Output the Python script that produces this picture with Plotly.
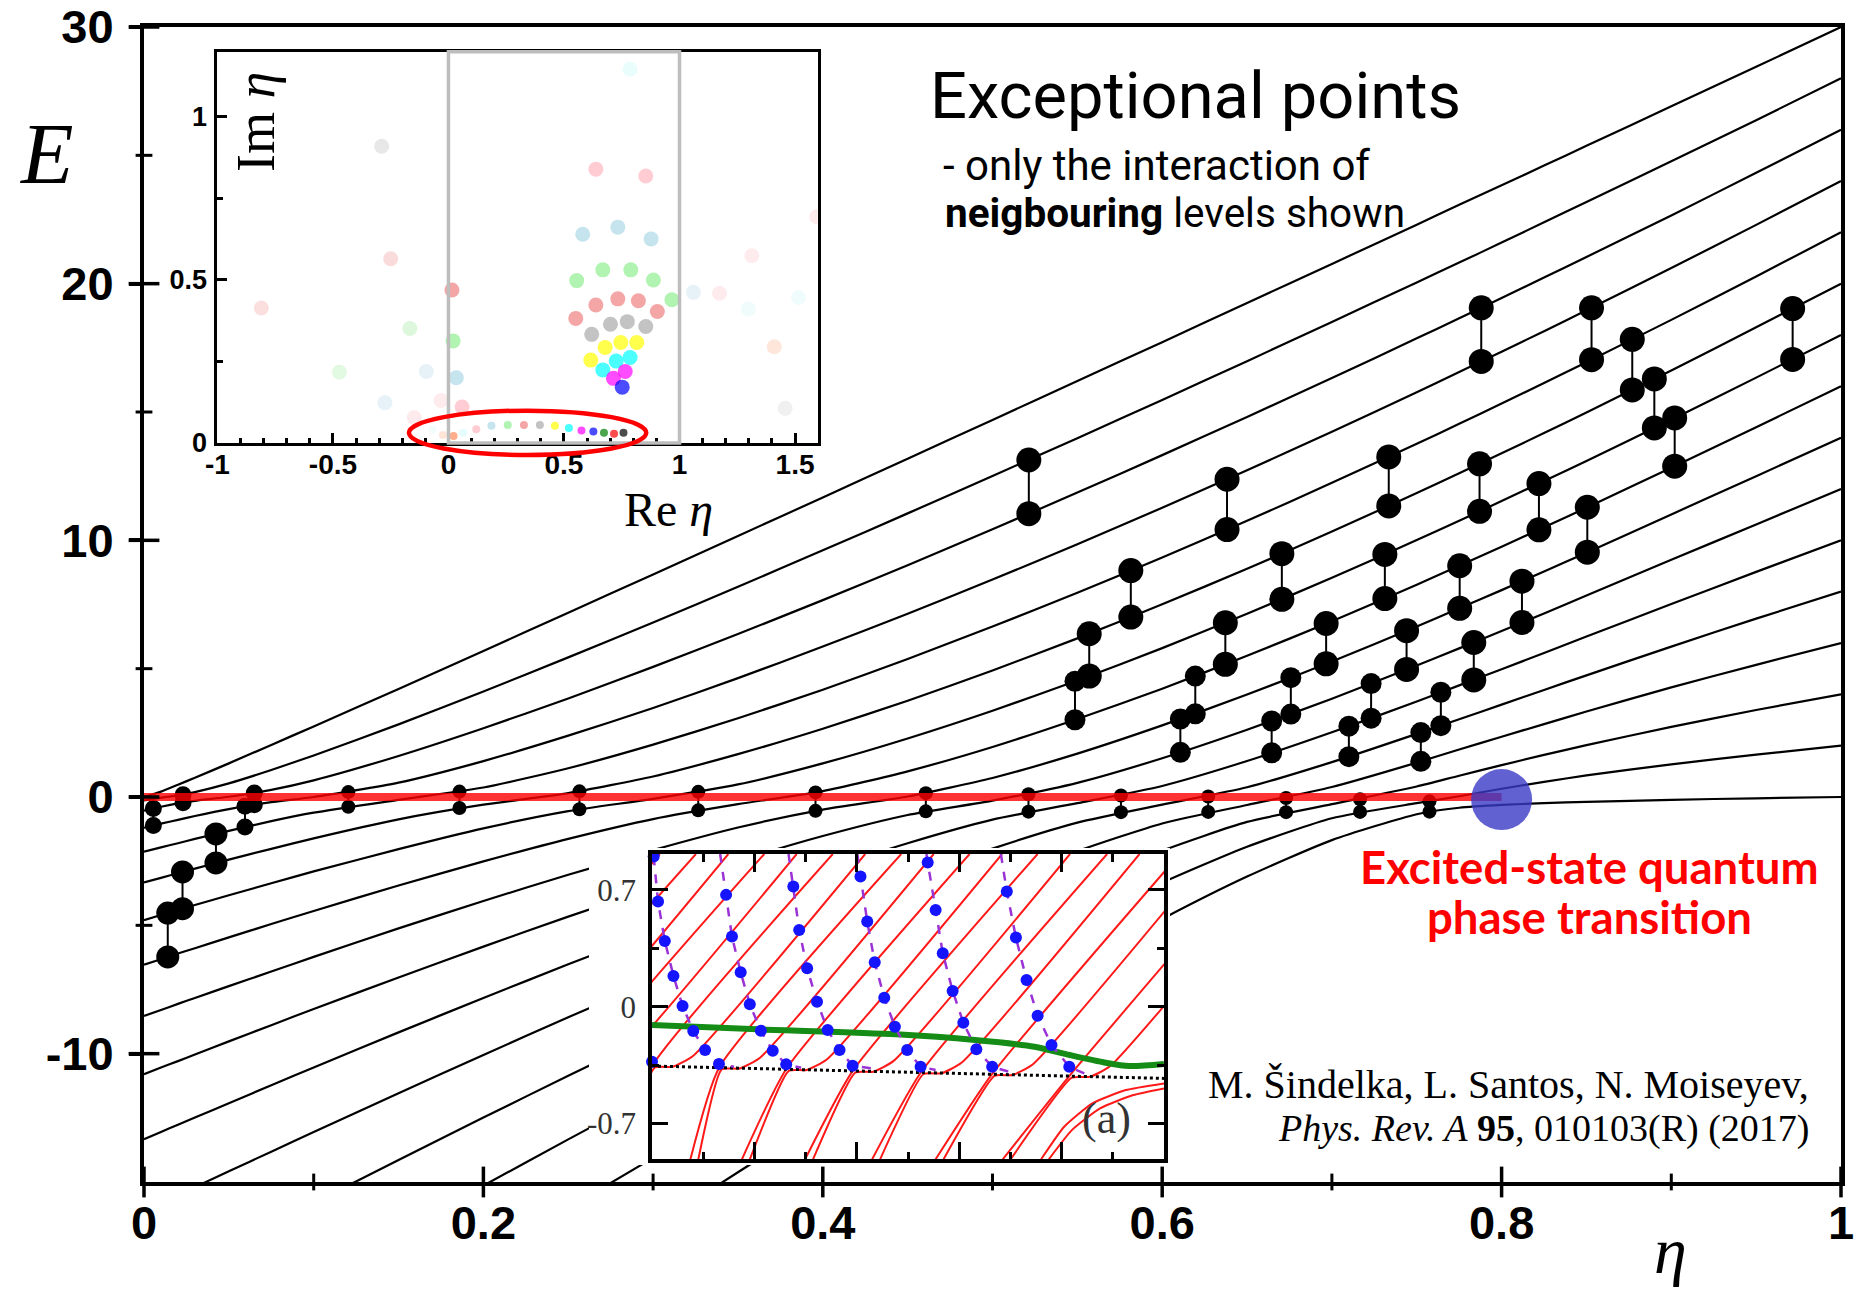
import plotly.graph_objects as go

# ------------------------------------------------------------------ main spectrum
ETA_GRID = [0, 0.01, 0.02, 0.03, 0.05, 0.075, 0.1, 0.15, 0.2, 0.25, 0.3, 0.35, 0.4, 0.45,
            0.5, 0.55, 0.6, 0.65, 0.7, 0.75, 0.775, 0.8, 0.825, 0.85, 0.9, 0.95, 1.0]

LEVEL_00 = [-30.00, -29.55, -29.10, -28.65, -27.76, -26.64, -25.52, -23.30, -21.10, -18.91, -16.75, -14.62, -12.52, -10.46,
            -8.47, -6.56, -4.75, -3.10, -1.68, -0.67, -0.42, -0.31, -0.24, -0.19, -0.11, -0.05, 0.00]
LEVEL_01 = [-26.13, -25.72, -25.31, -24.90, -24.08, -23.06, -22.04, -20.02, -18.01, -16.02, -14.06, -12.13, -10.24, -8.39,
            -6.61, -4.92, -3.34, -1.94, -0.83, -0.24, 0.03, 0.32, 0.59, 0.84, 1.27, 1.65, 2.00]
LEVEL_02 = [-22.53, -22.16, -21.78, -21.41, -20.66, -19.73, -18.81, -16.96, -15.14, -13.34, -11.57, -9.83, -8.13, -6.48,
            -4.91, -3.43, -2.09, -0.97, -0.28, 0.41, 0.83, 1.24, 1.64, 2.02, 2.73, 3.39, 4.00]
LEVEL_03 = [-19.20, -18.86, -18.52, -18.18, -17.50, -16.65, -15.81, -14.14, -12.49, -10.86, -9.26, -7.70, -6.19, -4.74,
            -3.37, -2.11, -1.03, -0.31, 0.39, 1.34, 1.85, 2.35, 2.84, 3.33, 4.27, 5.15, 6.00]
LEVEL_04 = [-16.13, -15.82, -15.51, -15.20, -14.58, -13.82, -13.05, -11.54, -10.05, -8.58, -7.16, -5.77, -4.44, -3.17,
            -2.01, -1.00, -0.30, 0.38, 1.36, 2.46, 3.03, 3.60, 4.17, 4.74, 5.86, 6.95, 8.00]
LEVEL_05 = [-13.33, -13.05, -12.77, -12.49, -11.93, -11.23, -10.54, -9.17, -7.83, -6.52, -5.25, -4.03, -2.87, -1.80,
            -0.88, -0.24, 0.43, 1.40, 2.52, 3.72, 4.35, 4.98, 5.61, 6.25, 7.52, 8.77, 10.00]
LEVEL_06 = [-10.80, -10.54, -10.29, -10.03, -9.52, -8.89, -8.26, -7.03, -5.83, -4.66, -3.55, -2.49, -1.52, -0.70,
            -0.14, 0.55, 1.51, 2.62, 3.83, 5.12, 5.79, 6.47, 7.15, 7.85, 9.24, 10.62, 12.00]
LEVEL_07 = [-8.53, -8.30, -8.06, -7.83, -7.37, -6.80, -6.23, -5.12, -4.05, -3.03, -2.07, -1.19, -0.49, 0.02,
            0.74, 1.69, 2.79, 3.99, 5.28, 6.64, 7.35, 8.06, 8.79, 9.52, 11.01, 12.50, 14.00]
LEVEL_08 = [-6.53, -6.32, -6.10, -5.89, -5.47, -4.95, -4.44, -3.45, -2.51, -1.63, -0.86, -0.28, 0.23, 1.00,
            1.95, 3.04, 4.22, 5.50, 6.85, 8.27, 9.01, 9.75, 10.51, 11.27, 12.83, 14.41, 16.00]
LEVEL_09 = [-4.80, -4.60, -4.41, -4.21, -3.83, -3.36, -2.90, -2.03, -1.22, -0.55, -0.07, 0.49, 1.31, 2.28,
            3.36, 4.54, 5.80, 7.14, 8.54, 10.01, 10.76, 11.53, 12.31, 13.09, 14.70, 16.34, 18.00]
LEVEL_10 = [-3.33, -3.15, -2.97, -2.79, -2.44, -2.02, -1.61, -0.87, -0.30, 0.15, 0.80, 1.67, 2.66, 3.75,
            4.93, 6.18, 7.51, 8.89, 10.34, 11.84, 12.61, 13.39, 14.18, 14.98, 16.62, 18.30, 20.00]
LEVEL_11 = [-2.13, -1.96, -1.80, -1.63, -1.32, -0.94, -0.61, -0.11, 0.37, 1.12, 2.04, 3.07, 4.18, 5.38,
            6.64, 7.96, 9.33, 10.76, 12.24, 13.76, 14.54, 15.33, 16.13, 16.94, 18.59, 20.28, 22.00]
LEVEL_12 = [-1.20, -1.04, -0.89, -0.74, -0.47, -0.20, -0.00, 0.56, 1.40, 2.39, 3.47, 4.63, 5.86, 7.14,
            8.47, 9.85, 11.27, 12.73, 14.23, 15.77, 16.56, 17.35, 18.15, 18.96, 20.61, 22.29, 24.00]
LEVEL_13 = [-0.53, -0.38, -0.25, -0.15, 0.01, 0.28, 0.65, 1.60, 2.68, 3.84, 5.07, 6.35, 7.67, 9.03,
            10.43, 11.86, 13.32, 14.81, 16.32, 17.87, 18.65, 19.44, 20.24, 21.04, 22.66, 24.32, 26.00]
LEVEL_14 = [-0.13, -0.03, 0.06, 0.19, 0.53, 1.05, 1.62, 2.83, 4.11, 5.44, 6.80, 8.19, 9.61, 11.05,
            12.51, 13.98, 15.47, 16.98, 18.51, 20.05, 20.82, 21.60, 22.39, 23.18, 24.77, 26.37, 28.00]
LEVEL_15 = [0.00, 0.21, 0.48, 0.75, 1.31, 2.03, 2.75, 4.21, 5.69, 7.18, 8.67, 10.17, 11.67, 13.18,
            14.69, 16.21, 17.72, 19.25, 20.77, 22.30, 23.07, 23.83, 24.60, 25.37, 26.91, 28.45, 30.00]
LEVELS = [LEVEL_00, LEVEL_01, LEVEL_02, LEVEL_03, LEVEL_04, LEVEL_05, LEVEL_06, LEVEL_07,
          LEVEL_08, LEVEL_09, LEVEL_10, LEVEL_11, LEVEL_12, LEVEL_13, LEVEL_14, LEVEL_15]

E_TICKS = [-10, 0, 10, 20, 30]
E_TICK_TEXT = ["-10", "0", "10", "20", "30"]
E_MINOR = [-5, 5, 15, 25]
ETA_TICKS = [0, 0.2, 0.4, 0.6, 0.8, 1.0]
ETA_TICK_TEXT = ["0", "0.2", "0.4", "0.6", "0.8", "1"]
ETA_MINOR = [0.1, 0.3, 0.5, 0.7, 0.9]

# exceptional points: position (Re eta) and the two neighbouring levels
EP_BIG_ETA = [0.5214, 0.5570, 0.5815, 0.6372, 0.6382, 0.6705, 0.6966, 0.7335, 0.7312, 0.7440, 0.7753,
              0.7836, 0.7880, 0.7870, 0.8120, 0.8220, 0.8530, 0.8505, 0.8770, 0.8900, 0.9020, 0.9715]
EP_BIG_UP = [13.13, 6.36, 8.82, 6.79, 12.38, 9.48, 6.76, 13.25, 9.45, 6.48, 9.01,
             6.02, 19.06, 12.98, 8.41, 12.21, 19.06, 11.29, 17.83, 16.29, 14.77, 19.03]
EP_BIG_LOW = [11.04, 4.71, 7.01, 5.17, 10.42, 7.70, 5.19, 11.34, 7.73, 4.97, 7.35,
              4.56, 16.97, 11.13, 6.80, 10.41, 17.04, 9.54, 15.86, 14.38, 12.89, 17.05]
EP_MID_ETA = [0.5486, 0.6107, 0.6195, 0.6645, 0.6758, 0.7100, 0.7231, 0.7524, 0.7642]
EP_MID_UP = [4.51, 3.04, 4.71, 2.96, 4.65, 2.76, 4.42, 2.51, 4.08]
EP_MID_LOW = [3.01, 1.74, 3.24, 1.72, 3.23, 1.57, 3.07, 1.39, 2.78]
EP_LEFT_ETA = [0.0140, 0.0227, 0.0424]
EP_LEFT_UP = [-4.52, -2.92, -1.44]
EP_LEFT_LOW = [-6.23, -4.35, -2.57]
EP_LEFT2_ETA = [0.0055, 0.0230, 0.0595, 0.0650]
EP_LEFT2_UP = [-0.45, 0.09, -0.36, 0.16]
EP_LEFT2_LOW = [-1.11, -0.22, -1.17, -0.30]
EP_ZERO_ETA = [0.1204, 0.1859, 0.2566, 0.3266, 0.3957, 0.4607, 0.5212, 0.5757, 0.6271, 0.6730, 0.7166, 0.7575]
EP_ZERO_UP = [0.19, 0.21, 0.22, 0.20, 0.18, 0.15, 0.11, 0.06, 0.02, -0.04, -0.09, -0.17]
EP_ZERO_LOW = [-0.38, -0.43, -0.48, -0.52, -0.54, -0.56, -0.57, -0.59, -0.58, -0.59, -0.58, -0.57]

ESQPT_ETA = [0.0, 0.8]
ESQPT_E = [0.0, 0.0]
CRIT_ETA = [0.8]
CRIT_E = [-0.1]

# ------------------------------------------------------------------ inset 1 (complex eta plane)
IN1_RE = [0.022, 0.063, 0.1204, 0.1859, 0.2566, 0.3266, 0.3957, 0.4607, 0.5212, 0.5757, 0.6271, 0.6730,
          0.7166, 0.7575, -0.024, -0.069,
          0.638, 0.854, 0.581, 0.733, 0.877, 0.555, 0.668, 0.789, 0.887, 0.967,
          0.551, 0.638, 0.733, 0.822, 0.904, 0.620, 0.701, 0.774, 0.854,
          0.616, 0.678, 0.746, 0.815, 0.668, 0.726, 0.786, 0.714, 0.765, 0.752, 0.786,
          0.015, 0.020, 0.034, 0.059,
          -0.810, -0.289, -0.250, -0.167, -0.472, -0.096, -0.275, -0.032, -0.148,
          1.060, 1.173, 1.313, 1.298, 1.515, 1.410, 1.457, 1.594]
IN1_IM = [0.021, 0.031, 0.042, 0.053, 0.055, 0.055, 0.055, 0.053, 0.046, 0.038, 0.035, 0.031,
          0.028, 0.031, 0.024, 0.040,
          0.840, 0.819, 0.640, 0.662, 0.626, 0.498, 0.531, 0.531, 0.500, 0.439,
          0.382, 0.423, 0.442, 0.436, 0.403, 0.333, 0.364, 0.372, 0.357,
          0.254, 0.293, 0.308, 0.308, 0.224, 0.251, 0.262, 0.198, 0.219, 0.171, 1.147,
          0.469, 0.313, 0.200, 0.110,
          0.414, 0.910, 0.565, 0.351, 0.217, 0.219, 0.123, 0.130, 0.077,
          0.462, 0.459, 0.574, 0.411, 0.446, 0.295, 0.106, 0.694]
IN1_COLORS = ['#ff8c5a', '#d8fbfb', '#ffb6c1', '#add8e6', '#90ee90', '#f08080', '#a9a9a9', '#ffff00',
              '#00ffff', '#ff00ff', '#0000ff', '#008000', '#ff0000', '#000000', '#ffd9c8', '#eefafa',
              '#ffb6c1', '#ffb6c1', '#add8e6', '#add8e6', '#add8e6', '#90ee90', '#90ee90', '#90ee90',
              '#90ee90', '#90ee90', '#f08080', '#f08080', '#f08080', '#f08080', '#f08080',
              '#a9a9a9', '#a9a9a9', '#a9a9a9', '#a9a9a9', '#ffff00', '#ffff00', '#ffff00', '#ffff00',
              '#00ffff', '#00ffff', '#00ffff', '#ff00ff', '#ff00ff', '#0000ff', '#dffcfc',
              '#f08080', '#90ee90', '#add8e6', '#ffb6c1',
              '#f9d2d2', '#dddddd', '#f8cccc', '#cdf3cd', '#d5f6d5', '#dcedf3', '#dcedf3', '#fde2e6',
              '#fde0e4', '#dcedf3', '#fde2e6', '#fde2e6', '#eafafa', '#eafafa', '#ffdccc', '#eaeaea',
              '#fde2e6']
IN1_SIZES = [8] * 16 + [15] * (len(IN1_RE) - 16)
IN1_X_TICKS = [-1, -0.5, 0, 0.5, 1, 1.5]
IN1_X_TEXT = ["-1", "-0.5", "0", "0.5", "1", "1.5"]
IN1_X_MINOR = [-0.9, -0.8, -0.7, -0.6, -0.4, -0.3, -0.2, -0.1, 0.1, 0.2, 0.3, 0.4, 0.6, 0.7, 0.8,
               0.9, 1.1, 1.2, 1.3, 1.4]
IN1_Y_TICKS = [0, 0.5, 1]
IN1_Y_TEXT = ["0", "0.5", "1"]
IN1_Y_MINOR = [0.25, 0.75]

# ------------------------------------------------------------------ inset (a)
RED_X = [
    [-4.525, -3.88, -3.53, -3.13, 0.153],
    [-3.37, -2.62, 0.858], [-3.215, -2.57, -2.22, -1.82, 1.491],
    [-2.06, -1.31, 2.193], [-1.905, -1.26, -0.91, -0.51, 2.826],
    [-0.75, 0.0, 3.531], [-0.595, 0.05, 0.4, 0.8, 4.164],
    [0.75, 1.31, 4.868], [0.905, 1.36, 1.71, 2.11, 5.502],
    [1.756, 2.62, 6.203], [1.911, 2.67, 3.02, 3.42, 6.837],
    [2.99, 3.92, 7.531], [3.145, 3.97, 4.32, 4.72, 8.164],
    [4.30, 5.25, 8.889], [4.455, 5.30, 5.65, 6.05, 9.522],
    [5.54, 6.64, 10.307], [5.695, 6.69, 7.04, 7.44, 10.94],
    [6.85, 8.15, 11.847], [7.005, 8.2, 8.55, 8.95, 12.48],
    [7.6, 8.05, 8.6, 9.25, 10.0], [7.75, 8.2, 8.75, 9.4, 10.0],
]
RED_Y = [
    [-0.915, -0.337, -0.332, -0.267, 0.915],
    [-0.915, -0.337, 0.915], [-0.915, -0.347, -0.342, -0.277, 0.915],
    [-0.915, -0.346, 0.915], [-0.915, -0.356, -0.351, -0.286, 0.915],
    [-0.915, -0.356, 0.915], [-0.915, -0.366, -0.361, -0.296, 0.915],
    [-0.915, -0.366, 0.915], [-0.915, -0.376, -0.371, -0.306, 0.915],
    [-0.915, -0.375, 0.915], [-0.915, -0.385, -0.380, -0.315, 0.915],
    [-0.915, -0.385, 0.915], [-0.915, -0.395, -0.390, -0.325, 0.915],
    [-0.915, -0.395, 0.915], [-0.915, -0.405, -0.400, -0.335, 0.915],
    [-0.915, -0.405, 0.915], [-0.915, -0.415, -0.410, -0.345, 0.915],
    [-0.915, -0.416, 0.915], [-0.915, -0.426, -0.421, -0.356, 0.915],
    [-0.915, -0.72, -0.58, -0.50, -0.46], [-0.915, -0.74, -0.61, -0.53, -0.49],
]
SEP_X = [0.0, 10.0]
SEP_Y = [-0.356, -0.43]
GREEN_X = [0.0, 2.06, 4.77, 6.31, 7.47, 8.16, 8.86, 9.32, 10.0]
GREEN_Y = [-0.110, -0.136, -0.166, -0.200, -0.240, -0.290, -0.336, -0.356, -0.344]
TRACK_X = [
    [0.033, 0.118, 0.250, 0.419, 0.597, 0.806, 1.037, 1.308, 1.601],
    [1.331, 1.447, 1.562, 1.732, 1.910, 2.126, 2.358, 2.621, 2.914],
    [2.667, 2.760, 2.875, 3.030, 3.223, 3.431, 3.663, 3.918, 4.304],
    [4.010, 4.072, 4.204, 4.350, 4.536, 4.744, 4.984, 5.246, 5.540],
    [5.360, 5.385, 5.540, 5.679, 5.872, 6.080, 6.335, 6.644, 6.969],
    [6.814, 6.930, 7.108, 7.316, 7.532, 7.803, 8.150, 8.513],
]
TRACK_Y = [
    [0.90, 0.63, 0.394, 0.184, 0.004, -0.146, -0.26, -0.344, -0.36],
    [0.915, 0.67, 0.42, 0.206, 0.014, -0.144, -0.264, -0.346, -0.366],
    [0.915, 0.72, 0.46, 0.23, 0.03, -0.14, -0.26, -0.354, -0.37],
    [0.915, 0.78, 0.51, 0.266, 0.054, -0.12, -0.26, -0.36, -0.38],
    [0.915, 0.864, 0.58, 0.32, 0.094, -0.096, -0.256, -0.36, -0.39],
    [0.915, 0.69, 0.414, 0.16, -0.054, -0.23, -0.36, -0.41],
]
DOTS_X = [0.033, 0.118, 0.250, 0.419, 0.597, 0.806, 1.037, 1.308,
          1.447, 1.562, 1.732, 1.910, 2.126, 2.358, 2.621,
          2.760, 2.875, 3.030, 3.223, 3.431, 3.663, 3.918,
          4.072, 4.204, 4.350, 4.536, 4.744, 4.984, 5.246,
          5.385, 5.540, 5.679, 5.872, 6.080, 6.335, 6.644,
          6.930, 7.108, 7.316, 7.532, 7.803, 8.150, 0.0]
DOTS_Y = [0.90, 0.63, 0.394, 0.184, 0.004, -0.146, -0.26, -0.344,
          0.67, 0.42, 0.206, 0.014, -0.144, -0.264, -0.346,
          0.72, 0.46, 0.23, 0.03, -0.14, -0.26, -0.354,
          0.78, 0.51, 0.266, 0.054, -0.12, -0.26, -0.36,
          0.864, 0.58, 0.32, 0.094, -0.096, -0.256, -0.36,
          0.69, 0.414, 0.16, -0.054, -0.23, -0.36, -0.33]
INA_Y_TICKS = [-0.7, 0, 0.7]
INA_Y_TEXT = ["-0.7", "0", "0.7"]

# ------------------------------------------------------------------ layout helpers
W, H = 1861, 1296
ML, MR, MT, MB = 144, 20, 27, 114
PW = W - ML - MR
PH = H - MT - MB


def px(X):
    return (X - ML) / PW


def py(Y):
    return (H - MB - Y) / PH


fig = go.Figure()
NOHOVER = dict(hoverinfo='skip', showlegend=False)

for lev in LEVELS:
    fig.add_trace(go.Scatter(x=ETA_GRID, y=lev, mode='lines',
                             line=dict(color='black', width=2.2, shape='spline', smoothing=0.6), **NOHOVER))

groups = [(EP_BIG_ETA, EP_BIG_UP, EP_BIG_LOW, 25), (EP_MID_ETA, EP_MID_UP, EP_MID_LOW, 21),
          (EP_LEFT_ETA, EP_LEFT_UP, EP_LEFT_LOW, 23), (EP_LEFT2_ETA, EP_LEFT2_UP, EP_LEFT2_LOW, 17),
          (EP_ZERO_ETA, EP_ZERO_UP, EP_ZERO_LOW, 14)]
cx, cy = [], []
for et, up, lo, _ in groups:
    for a, b, c in zip(et, up, lo):
        cx += [a, a, None]
        cy += [b, c, None]
fig.add_trace(go.Scatter(x=cx, y=cy, mode='lines', line=dict(color='black', width=2), **NOHOVER))
for et, up, lo, sz in groups:
    fig.add_trace(go.Scatter(x=et + et, y=up + lo, mode='markers',
                             marker=dict(size=sz, color='black', line=dict(width=0)), **NOHOVER))

fig.add_trace(go.Scatter(x=ESQPT_ETA, y=ESQPT_E, mode='lines',
                         line=dict(color='rgba(255,0,0,0.8)', width=8), **NOHOVER))
fig.add_trace(go.Scatter(x=CRIT_ETA, y=CRIT_E, mode='markers',
                         marker=dict(size=61, color='rgba(58,58,198,0.8)', line=dict(width=0)), **NOHOVER))

# crossing tick marks on the main axes
fig.add_trace(go.Scatter(x=[0] * len(E_TICKS), y=E_TICKS, mode='markers', cliponaxis=False,
                         marker=dict(symbol='line-ew', size=22, line=dict(width=3.5, color='black')), **NOHOVER))
fig.add_trace(go.Scatter(x=[0] * len(E_MINOR), y=E_MINOR, mode='markers', cliponaxis=False,
                         marker=dict(symbol='line-ew', size=12, line=dict(width=3, color='black')), **NOHOVER))
fig.add_trace(go.Scatter(x=ETA_TICKS, y=[-15] * len(ETA_TICKS), mode='markers', cliponaxis=False,
                         marker=dict(symbol='line-ns', size=22, line=dict(width=3.5, color='black')), **NOHOVER))
fig.add_trace(go.Scatter(x=ETA_MINOR, y=[-15] * len(ETA_MINOR), mode='markers', cliponaxis=False,
                         marker=dict(symbol='line-ns', size=12, line=dict(width=3, color='black')), **NOHOVER))

# inset 1
fig.add_trace(go.Scatter(x=IN1_RE, y=IN1_IM, mode='markers', xaxis='x2', yaxis='y2',
                         marker=dict(size=IN1_SIZES, color=IN1_COLORS, line=dict(width=0)), **NOHOVER))

# white cover behind inset (a)
fig.add_trace(go.Scatter(x=[0.5], y=[0.5], mode='markers', xaxis='x3', yaxis='y3',
                         marker=dict(opacity=0), **NOHOVER))

# inset (a)
for rx, ry in zip(RED_X, RED_Y):
    fig.add_trace(go.Scatter(x=rx, y=ry, mode='lines', xaxis='x4', yaxis='y4',
                             line=dict(color='#ff1a1a', width=2, shape='spline', smoothing=0.5), **NOHOVER))
fig.add_trace(go.Scatter(x=SEP_X, y=SEP_Y, mode='lines', xaxis='x4', yaxis='y4',
                         line=dict(color='black', width=3, dash='dot'), **NOHOVER))
fig.add_trace(go.Scatter(x=GREEN_X, y=GREEN_Y, mode='lines', xaxis='x4', yaxis='y4',
                         line=dict(color='#158c15', width=6, shape='spline', smoothing=0.8), **NOHOVER))
for tx, ty in zip(TRACK_X, TRACK_Y):
    fig.add_trace(go.Scatter(x=tx, y=ty, mode='lines', xaxis='x4', yaxis='y4',
                             line=dict(color='#9a32d6', width=2.5, dash='dash'), **NOHOVER))
fig.add_trace(go.Scatter(x=DOTS_X, y=DOTS_Y, mode='markers', xaxis='x4', yaxis='y4', cliponaxis=False,
                         marker=dict(size=12, color='#1414ff', line=dict(width=0)), **NOHOVER))

BOLD = dict(family='Liberation Sans', color='black', weight='bold')

axis_common = dict(showgrid=False, zeroline=False, showline=True, linecolor='black', automargin=False)

layout = dict(
    width=W, height=H, margin=dict(l=ML, r=MR, t=MT, b=MB, pad=0, autoexpand=False),
    paper_bgcolor='white', plot_bgcolor='white', showlegend=False,
    font=dict(family='Liberation Sans', color='black'),
    xaxis=dict(domain=[0, 1], range=[0, 1], linewidth=4, mirror=True, ticks='',
               tickvals=ETA_TICKS, ticktext=ETA_TICK_TEXT,
               tickfont=dict(size=47, **BOLD), ticklabelstandoff=-3, **axis_common),
    yaxis=dict(domain=[0, 1], range=[-15, 30], linewidth=4, mirror=True, ticks='outside', ticklen=11,
               tickwidth=3.5, tickcolor='black', tickvals=E_TICKS, ticktext=E_TICK_TEXT,
               tickfont=dict(size=47, **BOLD), ticklabelstandoff=6, **axis_common),
    xaxis2=dict(domain=[px(217.4), px(817.7)], range=[-1, 1.598], anchor='y2', linewidth=3, mirror=True,
                ticks='inside', ticklen=10, tickwidth=3, tickcolor='black', tickvals=IN1_X_TICKS,
                ticktext=IN1_X_TEXT, tickfont=dict(size=28, **BOLD), ticklabelstandoff=-6,
                minor=dict(ticks='inside', ticklen=5, tickwidth=2.5, tickcolor='black', tickvals=IN1_X_MINOR),
                **axis_common),
    yaxis2=dict(domain=[py(442.9), py(51.8)], range=[0, 1.2], anchor='x2', linewidth=3, mirror=True,
                ticks='inside', ticklen=10, tickwidth=3, tickcolor='black', tickvals=IN1_Y_TICKS,
                ticktext=IN1_Y_TEXT, tickfont=dict(size=27, **BOLD), ticklabelstandoff=2,
                minor=dict(ticks='inside', ticklen=6, tickwidth=2.5, tickcolor='black', tickvals=IN1_Y_MINOR),
                **axis_common),
    xaxis3=dict(domain=[px(589), px(1170)], range=[0, 1], anchor='y3', visible=False, automargin=False),
    yaxis3=dict(domain=[py(1165), py(848)], range=[0, 1], anchor='x3', visible=False, automargin=False),
    xaxis4=dict(domain=[px(652), px(1164)], range=[0, 10], anchor='y4', linewidth=3.5, mirror='allticks',
                ticks='inside', ticklen=18, tickwidth=2.5, tickcolor='black', tickvals=[2, 4, 6, 8],
                showticklabels=False,
                minor=dict(ticks='inside', ticklen=8, tickwidth=2.5, tickcolor='black', tickvals=[1, 3, 5, 7, 9]),
                **axis_common),
    yaxis4=dict(domain=[py(1159.3), py(854)], range=[-0.915, 0.915], anchor='x4', linewidth=3.5,
                mirror='allticks', ticks='inside', ticklen=16, tickwidth=2.5, tickcolor='black',
                tickvals=INA_Y_TICKS, ticktext=INA_Y_TEXT, ticklabelstandoff=6,
                tickfont=dict(family='Liberation Serif', size=31, color='#333333'),
                minor=dict(ticks='inside', ticklen=7, tickwidth=2.5, tickcolor='black', tickvals=[-0.35, 0.35]),
                **axis_common),
    shapes=[
        dict(type='rect', xref='x2 domain', yref='y2 domain', x0=1 / 2.598, x1=2 / 2.598, y0=0, y1=1,
             line=dict(color='#bdbdbd', width=3.5), layer='above'),
        dict(type='circle', xref='x2 domain', yref='y2 domain', x0=0.3191, x1=0.7144, y0=-0.0308, y1=0.0825,
             line=dict(color='red', width=4.5), layer='above'),
    ],
)


def ann(text, X, Y, size, family, color='black', xanchor='center', yanchor='middle', angle=0):
    return dict(text=text, x=px(X), y=py(Y), xref='paper', yref='paper', showarrow=False,
                xanchor=xanchor, yanchor=yanchor, textangle=angle,
                font=dict(size=size, family=family, color=color))


layout['annotations'] = [
    ann('<i>E</i>', 46, 154, 86, 'Liberation Serif'),
    ann('<i>η</i>', 1670, 1250, 66, 'Liberation Serif'),
    ann('Exceptional points', 928, 96, 65, 'Roboto', xanchor='left'),
    ann('- only the interaction of', 941, 166, 42, 'Roboto', xanchor='left'),
    ann('<b>neigbouring</b> levels shown', 943, 213, 40.5, 'Roboto', xanchor='left'),
    ann('<b>Excited-state quantum</b>', 1589, 866, 45.5, 'Lato', color='#ff0000'),
    ann('<b>phase transition</b>', 1589, 916, 45.5, 'Lato', color='#ff0000'),
    ann('M. Šindelka, L. Santos, N. Moiseyev,', 1811, 1084, 40, 'Liberation Serif', xanchor='right'),
    ann('<i>Phys. Rev. A</i> <b>95</b>, 010103(R) (2017)', 1811, 1128, 38, 'Liberation Serif',
        xanchor='right'),
    ann('Im <i>η</i>', 256, 122, 54, 'Liberation Serif', angle=-90),
    ann('Re <i>η</i>', 668, 509, 48, 'Liberation Serif'),
    ann('(a)', 1106, 1118, 44, 'Liberation Serif', color='#333333'),
]

fig.update_layout(**layout)
fig.write_html("out.html", config={'displayModeBar': False})
